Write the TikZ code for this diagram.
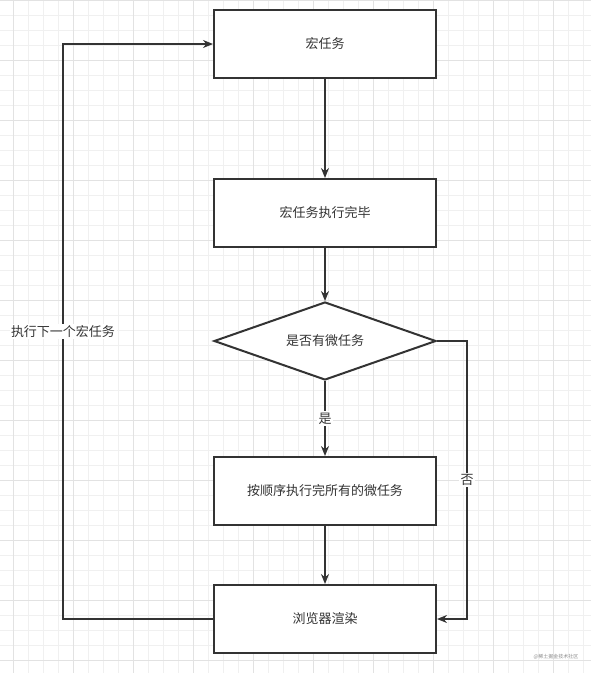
\documentclass[tikz,border=0pt]{standalone}
\usepackage{fontspec}
\newfontfamily\cjk{Noto Sans CJK SC}
\usetikzlibrary{shapes.geometric, arrows.meta, positioning}
\definecolor{ink}{HTML}{333333}
\definecolor{gridminor}{HTML}{F0F0F0}
\definecolor{gridmajor}{HTML}{E2E2E2}
\tikzset{
    box/.style = {draw=ink, fill=white, rectangle, line width=2pt, minimum width=222pt, minimum height=68pt, font=\cjk\fontsize{13}{16}\selectfont, text=ink},
    decision/.style = {draw=ink, fill=white, diamond, aspect=2.83, line width=2pt, minimum width=222pt, minimum height=78pt, inner sep=0pt, font=\cjk\fontsize{13}{16}\selectfont, text=ink},
    arr/.style = {draw=ink, line width=2pt, -{Stealth[length=10pt, width=8pt]}},
    lbl/.style = {fill=white, inner sep=1.5pt, font=\cjk\fontsize{13}{16}\selectfont, text=ink}
}

\begin{document}
\begin{tikzpicture}[x=1pt, y=1pt]
    \useasboundingbox (0,0) rectangle (591,-673);
    % background grid
    \begin{scope}
        \clip (0,0) rectangle (591,-673);
        \draw[gridminor, line width=0.6pt, xshift=13pt, step=15pt] (-15,15) grid (600,-690);
        \draw[gridmajor, line width=0.8pt, xshift=13pt, step=60pt] (-60,60) grid (600,-690);
    \end{scope}

    \node (macro) [box] at (325,-44) {宏任务};
    \node (macrodone) [box, below=99pt of macro] {宏任务执行完毕};
    \node (check) [decision, below=53pt of macrodone] {是否有微任务};
    \node (micro) [box, below=75pt of check] {按顺序执行完所有的微任务};
    \node (render) [box, below=58pt of micro] {浏览器渲染};

    \draw[arr] (macro) -- (macrodone);
    \draw[arr] (macrodone) -- (check);
    \draw[arr] (check) -- node[lbl] {是} (micro);
    \draw[arr] (micro) -- (render);
    \draw[arr] (check.east) -- ++(30,0) |- node[lbl, pos=0.25] {否} (render.east);
    \draw[arr] (render.west) -- ++(-150,0) |- node[lbl, pos=0.25] {执行下一个宏任务} (macro.west);

    \node (watermark) [text=black!45, font=\cjk\fontsize{5}{6}\selectfont] at (556,-657) {@稀土掘金技术社区};
\end{tikzpicture}
\end{document}
